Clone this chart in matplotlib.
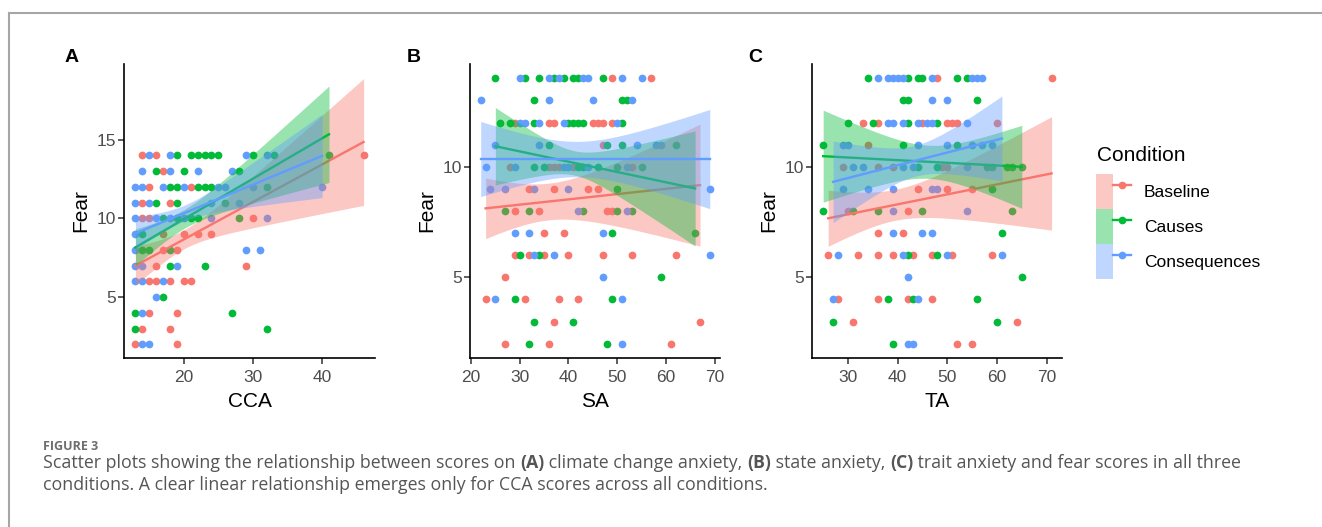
import numpy as np
import matplotlib
matplotlib.use('Agg')
from matplotlib import pyplot as plt
from matplotlib.lines import Line2D
from matplotlib.patches import Patch
from matplotlib.legend_handler import HandlerTuple

conditions = ['Baseline', 'Causes', 'Consequences']
colors = ['#F8766D', '#00BA38', '#619CFF']

# (score, fear) pairs
cca_baseline = [(14, 14), (16, 14), (46, 14), (17, 13), (15, 12), (21, 12), (14, 11), (18, 11),
                (14, 10), (15, 10), (30, 10), (17, 9), (20, 9), (22, 9), (24, 9), (17, 8), (19, 8),
                (16, 7), (29, 7), (15, 6), (16, 6), (18, 6), (20, 6), (21, 6), (15, 4), (19, 4),
                (14, 3), (18, 3), (13, 2), (19, 2)]
cca_causes = [(19, 14), (21, 14), (22, 14), (23, 14), (24, 14), (25, 14), (30, 14), (33, 14), (41, 14),
              (16, 13), (20, 13), (28, 13), (18, 12), (19, 12), (22, 12), (23, 12), (24, 12), (32, 12),
              (16, 11), (19, 11), (26, 11), (17, 10), (19, 10), (21, 10), (22, 10), (28, 10), (14, 9),
              (14, 8), (15, 8), (18, 8), (18, 7), (23, 7), (17, 5), (13, 4), (27, 4), (13, 3), (32, 3)]
cca_consequences = [(15, 14), (18, 14), (29, 14), (32, 14), (14, 13), (18, 13), (22, 13), (27, 13),
                    (13, 12), (14, 12), (17, 12), (20, 12), (25, 12), (26, 12), (30, 12), (40, 12),
                    (13, 11), (15, 11), (24, 11), (28, 11), (13, 10), (16, 10), (18, 10), (20, 10),
                    (24, 10), (32, 10), (13, 9), (13, 8), (29, 8), (31, 8), (13, 7), (14, 7), (19, 7),
                    (13, 6), (14, 6), (17, 6), (16, 5), (14, 4), (14, 2), (15, 2)]

sa_baseline = [(49, 14), (57, 14), (29, 12), (36, 12), (37, 12), (45, 12), (46, 12), (47, 12), (49, 12),
               (47, 11), (28, 10), (36, 10), (37, 10), (38, 10), (41, 10), (53, 10), (32, 9), (37, 9),
               (44, 9), (46, 9), (29, 8), (34, 8), (48, 8), (49, 8), (35, 7), (39, 7), (29, 6), (32, 6),
               (35, 6), (40, 6), (47, 6), (53, 6), (62, 6), (27, 5), (23, 4), (31, 4), (38, 4), (42, 4),
               (37, 3), (67, 3), (27, 2), (36, 2), (61, 2)]
sa_causes = [(25, 14), (31, 14), (34, 14), (37, 14), (39, 14), (41, 14), (42, 14), (47, 14), (33, 13),
             (51, 13), (52, 13), (26, 12), (28, 12), (33, 12), (40, 12), (41, 12), (42, 12), (43, 12),
             (51, 12), (36, 11), (48, 11), (51, 11), (62, 11), (33, 10), (35, 10), (42, 10), (43, 10),
             (46, 10), (50, 10), (55, 10), (50, 9), (27, 8), (32, 8), (43, 8), (50, 8), (53, 8), (49, 7),
             (66, 7), (30, 6), (34, 6), (59, 5), (29, 4), (49, 4), (33, 3), (41, 3), (32, 2), (48, 2)]
sa_consequences = [(30, 14), (36, 14), (38, 14), (43, 14), (44, 14), (51, 14), (55, 14), (22, 13),
                   (36, 13), (45, 13), (53, 13), (30, 12), (31, 12), (34, 12), (39, 12), (50, 12),
                   (25, 11), (34, 11), (54, 11), (58, 11), (59, 11), (23, 10), (29, 10), (39, 10),
                   (40, 10), (44, 10), (52, 10), (24, 9), (27, 9), (33, 9), (40, 9), (69, 9), (42, 8),
                   (52, 8), (29, 7), (32, 7), (47, 7), (33, 6), (37, 6), (69, 6), (47, 5), (25, 4),
                   (51, 4), (51, 2)]

ta_baseline = [(48, 14), (71, 14), (33, 12), (36, 12), (45, 12), (50, 12), (51, 12), (52, 12), (60, 12),
               (34, 11), (29, 10), (36, 10), (39, 10), (49, 10), (50, 10), (44, 9), (50, 9), (55, 9),
               (30, 8), (42, 8), (36, 7), (41, 7), (26, 6), (32, 6), (36, 6), (39, 6), (43, 6), (47, 6),
               (51, 6), (59, 6), (28, 4), (36, 4), (42, 4), (47, 4), (31, 3), (64, 3), (52, 2), (55, 2)]
ta_causes = [(34, 14), (42, 14), (44, 14), (45, 14), (52, 14), (54, 14), (41, 13), (42, 13), (56, 13),
             (30, 12), (35, 12), (42, 12), (48, 12), (25, 11), (41, 11), (52, 11), (44, 10), (48, 10),
             (58, 10), (59, 10), (62, 10), (63, 10), (65, 10), (59, 9), (25, 8), (31, 8), (36, 8),
             (45, 8), (63, 8), (61, 7), (42, 6), (48, 6), (65, 5), (38, 4), (43, 4), (56, 4), (27, 3),
             (60, 3), (39, 2)]
ta_consequences = [(36, 14), (38, 14), (39, 14), (40, 14), (41, 14), (47, 14), (55, 14), (56, 14),
                   (57, 14), (47, 13), (50, 13), (38, 12), (39, 12), (41, 12), (44, 12), (46, 12),
                   (47, 12), (54, 12), (29, 11), (30, 11), (44, 11), (50, 11), (55, 11), (57, 11),
                   (59, 11), (31, 10), (33, 10), (41, 10), (43, 10), (54, 10), (29, 9), (34, 9), (39, 9),
                   (47, 9), (48, 9), (39, 8), (54, 8), (39, 7), (45, 7), (47, 7), (28, 6), (41, 6),
                   (50, 6), (61, 6), (42, 5), (27, 4), (44, 4), (42, 2), (43, 2)]

# lm fits, per condition:
# (x_from, x_to, fit_at_from, fit_at_to, x_mean, ci_at_mean, ci_growth_per_unit)
cca_fit = [(13, 46, 7.0, 14.85, 20.0, 0.60, 0.153),
           (13, 41, 8.16, 15.34, 20.0, 0.60, 0.143),
           (13, 40, 9.05, 13.97, 20.0, 0.50, 0.130)]
sa_fit = [(23, 67, 8.12, 9.17, 35.9, 0.83, 0.0846),
          (25, 66, 10.93, 9.02, 41.2, 0.55, 0.1026),
          (22, 69, 10.35, 10.35, 41.6, 0.80, 0.0765)]
ta_fit = [(26, 71, 7.67, 9.70, 39.5, 0.70, 0.0784),
          (25, 65, 10.48, 10.0, 46.2, 0.75, 0.0916),
          (27, 61, 9.32, 11.28, 43.6, 0.70, 0.103)]

panels = [
    {'tag': 'A', 'xlabel': 'CCA', 'groups': [cca_baseline, cca_causes, cca_consequences], 'fit': cca_fit,
     'xticks': [20, 30, 40], 'yticks': [5, 10, 15], 'xlim': (11.35, 47.65), 'ylim': (1.14, 19.8),
     'rect': [124, 64, 375, 358], 'tag_x': 72},
    {'tag': 'B', 'xlabel': 'SA', 'groups': [sa_baseline, sa_causes, sa_consequences], 'fit': sa_fit,
     'xticks': [20, 30, 40, 50, 60, 70], 'yticks': [5, 10], 'xlim': (19.8, 71.1), 'ylim': (1.35, 14.65),
     'rect': [470, 64, 720, 358], 'tag_x': 414},
    {'tag': 'C', 'xlabel': 'TA', 'groups': [ta_baseline, ta_causes, ta_consequences], 'fit': ta_fit,
     'xticks': [30, 40, 50, 60, 70], 'yticks': [5, 10], 'xlim': (22.75, 73.1), 'ylim': (1.35, 14.65),
     'rect': [812, 64, 1062, 358], 'tag_x': 755},
]

W, H = 1322, 527
fig = plt.figure(figsize=(W / 100, H / 100), dpi=100)
plt.rcParams['font.family'] = ['Liberation Sans', 'DejaVu Sans']

for p in panels:
    l, t, r, b = p['rect']
    ax = fig.add_axes([l / W, 1 - b / H, (r - l) / W, (b - t) / H])

    # points first, smooths on top (ggplot layer order)
    for pts, c in zip(p['groups'], colors):
        arr = np.array(pts)
        ax.scatter(arr[:, 0], arr[:, 1], s=31, color=c, linewidths=0, zorder=2)

    z = 3
    for (x0, x1, y0, y1, xm, cim, cis), c in zip(p['fit'], colors):
        xs = np.linspace(x0, x1, 80)
        fit = y0 + (y1 - y0) * (xs - x0) / (x1 - x0)
        half = np.sqrt(cim ** 2 + ((xs - xm) * cis) ** 2)
        ax.fill_between(xs, fit - half, fit + half, color=c, alpha=0.4, linewidth=0, zorder=z)
        ax.plot(xs, fit, color=c, lw=1.7, zorder=z + 0.5)
        z += 1

    ax.set_xlim(*p['xlim'])
    ax.set_ylim(*p['ylim'])
    ax.set_xticks(p['xticks'])
    ax.set_yticks(p['yticks'])
    for side in ['top', 'right']:
        ax.spines[side].set_visible(False)
    for side in ['left', 'bottom']:
        ax.spines[side].set_linewidth(1.2)
        ax.spines[side].set_color('black')
    ax.tick_params(length=4, width=1.1, color='#333333', labelcolor='#4D4D4D',
                   labelsize=12.5, pad=2)
    ax.tick_params(axis='x', pad=5)
    ax.set_xlabel(p['xlabel'], fontsize=15, labelpad=5)
    ax.set_ylabel('Fear', fontsize=15, labelpad=4)
    fig.text(p['tag_x'] / W, 1 - 58 / H, p['tag'], fontsize=14,
             fontweight='bold', ha='center', va='center')

# legend
fig.text(1097 / W, 1 - 155 / H, 'Condition', fontsize=15, ha='left', va='center')
handles = [(Patch(facecolor=c, alpha=0.4, edgecolor='none'),
            Line2D([], [], color=c, lw=1.7, marker='o', markersize=4.5))
           for c in colors]
fig.legend(handles, conditions, loc='upper left', bbox_to_anchor=(1096 / W, 1 - 174 / H),
           frameon=False, borderpad=0, borderaxespad=0, handlelength=2.0, handleheight=2.72,
           labelspacing=0, handletextpad=0.75, fontsize=12.5,
           handler_map={tuple: HandlerTuple(ndivide=None, pad=0)})

# page frame
frame = '#a6a6a6'
fig.add_artist(Line2D([8.5 / W, 1], [1 - 12.5 / H] * 2, transform=fig.transFigure, color=frame, lw=1.5))
fig.add_artist(Line2D([8.5 / W] * 2, [0, 1 - 12.5 / H], transform=fig.transFigure, color=frame, lw=1.5))

# caption
cap_font = ['Open Sans', 'DejaVu Sans']
fig.text(43 / W, 1 - 450.5 / H, 'FIGURE 3', fontsize=9, fontweight='bold', color='#6e6e6e',
         family=cap_font, va='baseline')

lines = [
    [('Scatter plots showing the relationship between scores on ', 'normal'), ('(A)', 'bold'),
     (' climate change anxiety, ', 'normal'), ('(B)', 'bold'), (' state anxiety, ', 'normal'),
     ('(C)', 'bold'), (' trait anxiety and fear scores in all three', 'normal')],
    [('conditions. A clear linear relationship emerges only for CCA scores across all conditions.', 'normal')],
]
renderer = fig.canvas.get_renderer()
for i, parts in enumerate(lines):
    x = 43
    y = 1 - (468 + i * 22.5) / H
    for txt, wt in parts:
        tt = fig.text(x / W, y, txt, fontsize=12.8, fontweight=wt, color='#555555',
                      family=cap_font, va='baseline')
        x += tt.get_window_extent(renderer).width

fig.savefig('out.png', dpi=100)
